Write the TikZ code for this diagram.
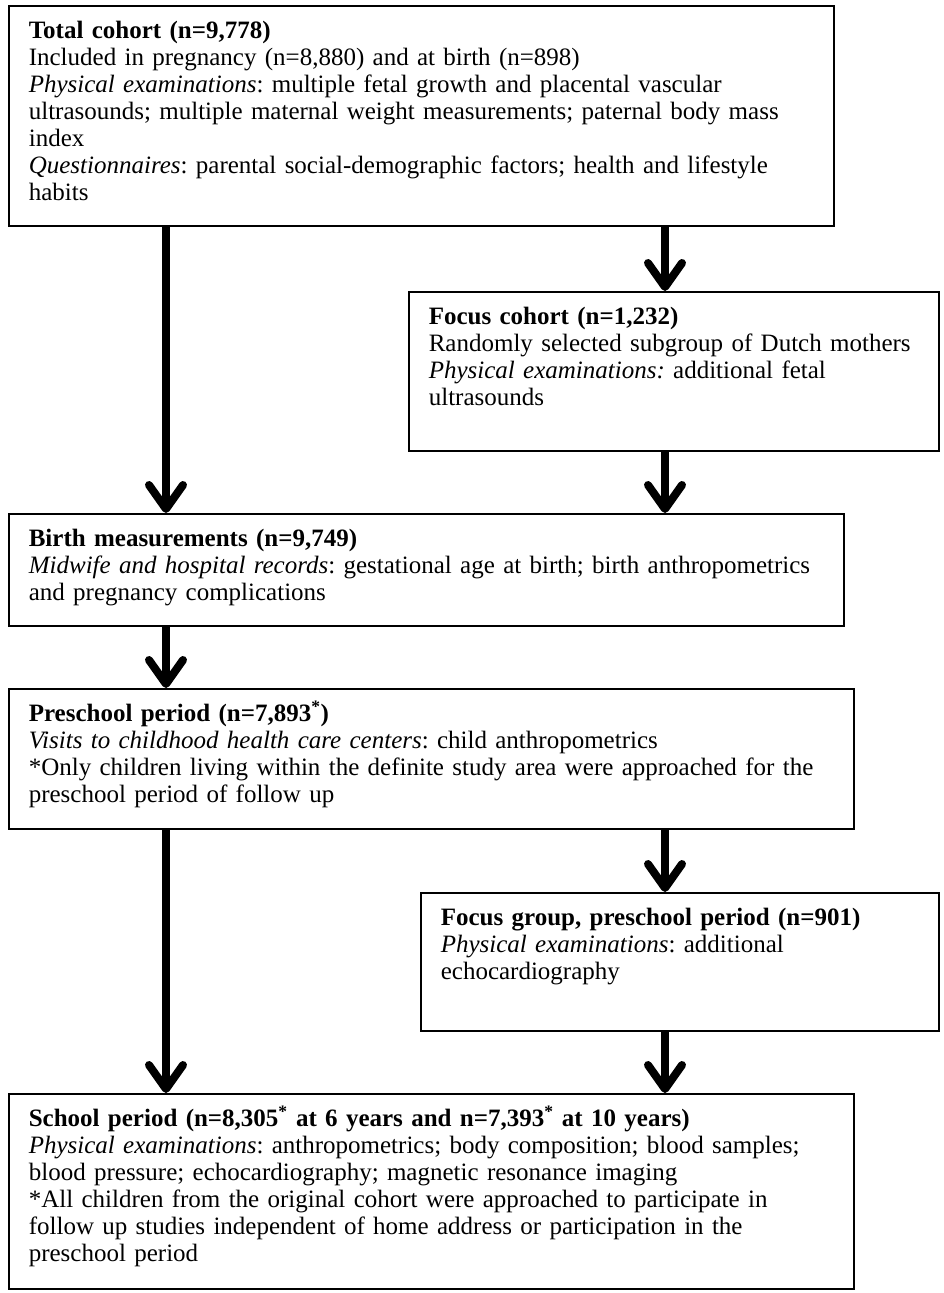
\documentclass[tikz,border=0pt]{standalone}
\usepackage{fontspec}
\setmainfont{Liberation Serif}
\usetikzlibrary{arrows.meta}
\frenchspacing

\tikzset{
  stage/.style={draw, line width=1.6pt, anchor=north west, align=left,
    inner xsep=20pt, inner ysep=0pt, text height=33pt,
    font=\fontsize{25}{27}\selectfont},
  flow/.style={line width=8pt, -{Straight Barb[length=24pt, width=34pt, round]}}
}

\begin{document}
\begin{tikzpicture}[x=1pt, y=-1pt]
  \useasboundingbox (0,0) rectangle (943,1293);

  % Total cohort
  \node[stage, text width=785pt, text depth=187pt] (total) at (8,5)
    {\textbf{Total cohort (n=9,778)}\\
     Included in pregnancy (n=8,880) and at birth (n=898)\\
     \textit{Physical examinations}: multiple fetal growth and placental vascular\\
     ultrasounds; multiple maternal weight measurements; paternal body mass\\
     index\\
     \textit{Questionnaires}: parental social-demographic factors; health and lifestyle\\
     habits};

  % Focus cohort
  \node[stage, text width=490pt, text depth=126pt] (focus) at (408,291)
    {\textbf{Focus cohort (n=1,232)}\\
     Randomly selected subgroup of Dutch mothers\\
     \textit{Physical examinations:} additional fetal\\
     ultrasounds};

  % Birth
  \node[stage, text width=795pt, text depth=79pt] (birth) at (8,513)
    {\textbf{Birth measurements (n=9,749)}\\
     \textit{Midwife and hospital records}: gestational age at birth; birth anthropometrics\\
     and pregnancy complications};

  % Preschool period
  \node[stage, text width=805pt, text depth=107pt] (preschool) at (8,688)
    {\textbf{Preschool period (n=7,893\textsuperscript{*})}\\
     \textit{Visits to childhood health care centers}: child anthropometrics\\
     {*}Only children living within the definite study area were approached for the\\
     preschool period of follow up};

  % Focus group
  \node[stage, text width=478pt, text depth=105pt] (group) at (420,892)
    {\textbf{Focus group, preschool period (n=901)}\\
     \textit{Physical examinations}: additional\\
     echocardiography};

  % School period
  \node[stage, text width=805pt, text depth=162pt] (school) at (8,1093)
    {\textbf{School period (n=8,305\textsuperscript{*} at 6 years and n=7,393\textsuperscript{*} at 10 years)}\\
     \textit{Physical examinations}: anthropometrics; body composition; blood samples;\\
     blood pressure; echocardiography; magnetic resonance imaging\\
     {*}All children from the original cohort were approached to participate in\\
     follow up studies independent of home address or participation in the\\
     preschool period};

  % arrows
  \coordinate (lx) at (166,0);
  \coordinate (rx) at (665,0);
  \draw[flow] (total.south -| lx) -- (birth.north -| lx);
  \draw[flow] (total.south -| rx) -- (focus.north -| rx);
  \draw[flow] (focus.south -| rx) -- (birth.north -| rx);
  \draw[flow] (birth.south -| lx) -- (preschool.north -| lx);
  \draw[flow] (preschool.south -| lx) -- (school.north -| lx);
  \draw[flow] (preschool.south -| rx) -- (group.north -| rx);
  \draw[flow] (group.south -| rx) -- (school.north -| rx);
\end{tikzpicture}
\end{document}
